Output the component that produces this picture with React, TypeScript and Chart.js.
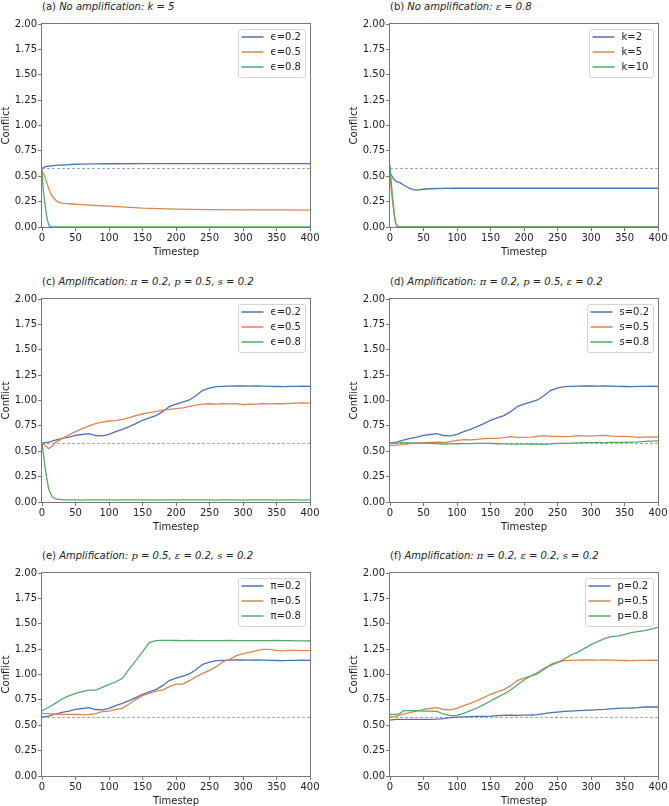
import React, { useEffect, useRef } from "react";
import { Chart, registerables } from "chart.js";

Chart.register(...registerables);

const FONT = "'DejaVu Sans', 'Noto Sans', sans-serif";
const SERIF = "'DejaVu Serif', serif";
Chart.defaults.font.family = FONT;

// ---------- data ----------
const X_MIN = 0;
const X_MAX = 400;
const Y_MIN = 0;
const Y_MAX = 2;
const NEUTRAL = 0.577; // dashed reference level

const NOAMP_T = [0, 2, 4, 6, 8, 10, 12, 15, 20, 25, 30, 35, 40, 50, 60, 80, 100, 150, 200, 250, 300, 350, 400];

const A_EPS02 = [0.57, 0.585, 0.592, 0.596, 0.598, 0.6, 0.601, 0.603, 0.607, 0.609, 0.611, 0.613, 0.615, 0.618, 0.62, 0.622, 0.623, 0.624, 0.624, 0.624, 0.624, 0.624, 0.624];
const A_EPS05 = [0.56, 0.53, 0.5, 0.46, 0.42, 0.38, 0.345, 0.305, 0.266, 0.243, 0.236, 0.232, 0.229, 0.224, 0.22, 0.212, 0.205, 0.185, 0.176, 0.172, 0.169, 0.168, 0.167];
const A_EPS08 = [0.55, 0.36, 0.25, 0.15, 0.07, 0.025, 0.006, 0.001, 0, 0, 0, 0, 0, 0, 0, 0, 0, 0, 0, 0, 0, 0, 0];

const B_K2 = [0.525, 0.51, 0.49, 0.47, 0.455, 0.447, 0.443, 0.437, 0.414, 0.397, 0.378, 0.368, 0.363, 0.372, 0.377, 0.38, 0.382, 0.382, 0.382, 0.382, 0.382, 0.382, 0.382];
const B_K5 = [0.5, 0.36, 0.25, 0.14, 0.05, 0.02, 0.005, 0, 0, 0, 0, 0, 0, 0, 0, 0, 0, 0, 0, 0, 0, 0, 0];
const B_K10 = [0.61, 0.43, 0.28, 0.14, 0.05, 0.01, 0, 0, 0, 0, 0, 0, 0, 0, 0, 0, 0, 0, 0, 0, 0, 0, 0];

const AMP_T = [0, 5, 10, 15, 20, 30, 40, 50, 60, 70, 80, 90, 100, 110, 120, 130, 140, 150, 160, 170, 180, 190, 200, 210, 220, 230, 240, 250, 260, 270, 280, 290, 300, 310, 320, 330, 340, 350, 360, 370, 380, 390, 400];

// pi = 0.2, p = 0.5, eps = 0.2, s = 0.2 (shared by c, d, e, f)
const BASE_AMP = [0.58, 0.585, 0.59, 0.6, 0.61, 0.627, 0.64, 0.657, 0.665, 0.673, 0.655, 0.652, 0.667, 0.693, 0.716, 0.742, 0.772, 0.805, 0.828, 0.851, 0.89, 0.94, 0.965, 0.985, 1.005, 1.05, 1.1, 1.123, 1.137, 1.14, 1.142, 1.143, 1.143, 1.142, 1.143, 1.142, 1.14, 1.138, 1.137, 1.139, 1.14, 1.141, 1.14];

const C_EPS05 = [0.58, 0.555, 0.525, 0.55, 0.585, 0.624, 0.66, 0.693, 0.722, 0.749, 0.772, 0.788, 0.798, 0.802, 0.814, 0.831, 0.85, 0.867, 0.88, 0.89, 0.906, 0.913, 0.92, 0.928, 0.943, 0.955, 0.965, 0.968, 0.965, 0.968, 0.966, 0.968, 0.96, 0.963, 0.965, 0.968, 0.966, 0.97, 0.968, 0.972, 0.975, 0.976, 0.975];
const C_EPS08 = [0.58, 0.32, 0.125, 0.053, 0.03, 0.022, 0.02, 0.021, 0.019, 0.02, 0.02, 0.021, 0.02, 0.019, 0.02, 0.02, 0.021, 0.02, 0.02, 0.019, 0.02, 0.02, 0.021, 0.02, 0.02, 0.02, 0.021, 0.02, 0.019, 0.02, 0.02, 0.02, 0.019, 0.02, 0.02, 0.021, 0.02, 0.019, 0.02, 0.02, 0.02, 0.019, 0.02];

const D_S05 = [0.558, 0.558, 0.56, 0.562, 0.565, 0.575, 0.58, 0.585, 0.588, 0.59, 0.586, 0.594, 0.607, 0.614, 0.613, 0.617, 0.624, 0.627, 0.626, 0.634, 0.644, 0.637, 0.636, 0.64, 0.647, 0.653, 0.647, 0.646, 0.644, 0.647, 0.653, 0.652, 0.65, 0.653, 0.657, 0.65, 0.647, 0.646, 0.644, 0.637, 0.64, 0.642, 0.64];
const D_S08 = [0.578, 0.58, 0.58, 0.582, 0.585, 0.582, 0.58, 0.58, 0.578, 0.576, 0.571, 0.572, 0.574, 0.575, 0.576, 0.577, 0.578, 0.577, 0.574, 0.572, 0.571, 0.57, 0.57, 0.572, 0.57, 0.567, 0.572, 0.577, 0.578, 0.58, 0.582, 0.584, 0.585, 0.586, 0.585, 0.587, 0.588, 0.588, 0.59, 0.592, 0.597, 0.6, 0.602];

const E_PI05 = [0.617, 0.615, 0.614, 0.612, 0.61, 0.607, 0.607, 0.606, 0.604, 0.606, 0.614, 0.634, 0.64, 0.657, 0.667, 0.709, 0.755, 0.791, 0.814, 0.837, 0.847, 0.88, 0.906, 0.906, 0.939, 0.979, 1.011, 1.041, 1.077, 1.126, 1.149, 1.186, 1.205, 1.218, 1.235, 1.248, 1.248, 1.238, 1.232, 1.238, 1.237, 1.236, 1.235];
const E_PI08 = [0.644, 0.66, 0.677, 0.697, 0.716, 0.759, 0.79, 0.814, 0.831, 0.847, 0.847, 0.874, 0.903, 0.926, 0.962, 1.054, 1.136, 1.222, 1.314, 1.333, 1.337, 1.336, 1.335, 1.334, 1.335, 1.334, 1.333, 1.334, 1.333, 1.334, 1.335, 1.334, 1.333, 1.333, 1.334, 1.333, 1.334, 1.335, 1.334, 1.333, 1.332, 1.332, 1.33];

const F_P02 = [0.55, 0.555, 0.558, 0.558, 0.558, 0.558, 0.558, 0.558, 0.558, 0.56, 0.565, 0.575, 0.58, 0.583, 0.585, 0.587, 0.588, 0.59, 0.594, 0.598, 0.6, 0.598, 0.6, 0.601, 0.604, 0.614, 0.624, 0.63, 0.637, 0.64, 0.644, 0.647, 0.65, 0.654, 0.657, 0.662, 0.667, 0.668, 0.67, 0.674, 0.68, 0.681, 0.68];
const F_P08 = [0.607, 0.607, 0.607, 0.617, 0.644, 0.644, 0.644, 0.64, 0.64, 0.637, 0.611, 0.594, 0.598, 0.617, 0.644, 0.67, 0.703, 0.739, 0.775, 0.808, 0.847, 0.897, 0.946, 0.985, 1.018, 1.061, 1.09, 1.12, 1.15, 1.192, 1.218, 1.258, 1.294, 1.323, 1.353, 1.373, 1.379, 1.392, 1.412, 1.422, 1.432, 1.448, 1.465];

const LEGEND_A = ["ϵ=0.2", "ϵ=0.5", "ϵ=0.8"];
const LEGEND_B = ["k=2", "k=5", "k=10"];
const LEGEND_C = ["ϵ=0.2", "ϵ=0.5", "ϵ=0.8"];
const LEGEND_D = ["s=0.2", "s=0.5", "s=0.8"];
const LEGEND_E = ["π=0.2", "π=0.5", "π=0.8"];
const LEGEND_F = ["p=0.2", "p=0.5", "p=0.8"];

const TAGS = ["(a)", "(b)", "(c)", "(d)", "(e)", "(f)"];
const TITLES = [
  "No amplification: k = 5",
  "No amplification: ε = 0.8",
  "Amplification: π = 0.2, p = 0.5, s = 0.2",
  "Amplification: π = 0.2, p = 0.5, ε = 0.2",
  "Amplification: p = 0.5, ε = 0.2, s = 0.2",
  "Amplification: π = 0.2, ε = 0.2, s = 0.2",
];
const X_LABEL = "Timestep";
const Y_LABEL = "Conflict";
const X_STEP = 50;
const Y_STEP = 0.25;

// ---------- style ----------
const SERIES_COLORS = ["#4C72B0", "#DD8452", "#55A868"];
const AXIS_COLOR = "#777777";
const TEXT_COLOR = "#222222";
const DASH_COLOR = "#999999";

const PLOT_W = 268;
const PLOT_H = 203;
const AXIS_W = 42;
const AXIS_H = 40;
const PAD_TOP = 8;
const PAD_RIGHT = 14;
const CANVAS_W = AXIS_W + PLOT_W + PAD_RIGHT;
const CANVAS_H = PAD_TOP + PLOT_H + AXIS_H;
const COL_LEFT = [0, 348];
const ROW_TOP = [16, 291, 565];

const PANELS = [
  { times: NOAMP_T, series: [A_EPS02, A_EPS05, A_EPS08], labels: LEGEND_A },
  { times: NOAMP_T, series: [B_K2, B_K5, B_K10], labels: LEGEND_B },
  { times: AMP_T, series: [BASE_AMP, C_EPS05, C_EPS08], labels: LEGEND_C },
  { times: AMP_T, series: [BASE_AMP, D_S05, D_S08], labels: LEGEND_D },
  { times: AMP_T, series: [BASE_AMP, E_PI05, E_PI08], labels: LEGEND_E },
  { times: AMP_T, series: [F_P02, BASE_AMP, F_P08], labels: LEGEND_F },
];

const framePlugin = {
  id: "frame",
  afterDatasetsDraw(chart: any) {
    const { ctx, chartArea } = chart;
    ctx.save();
    ctx.strokeStyle = AXIS_COLOR;
    ctx.lineWidth = 1;
    ctx.strokeRect(chartArea.left - 0.5, chartArea.top - 0.5, chartArea.right - chartArea.left + 1, chartArea.bottom - chartArea.top + 1);
    ctx.restore();
  },
};

const boxLegendPlugin = {
  id: "boxLegend",
  afterDatasetsDraw(chart: any, _args: any, opts: any) {
    const { ctx, chartArea } = chart;
    const labels: string[] = opts.labels || [];
    const colors: string[] = opts.colors || [];
    ctx.save();
    ctx.font = `10px ${FONT}`;
    const textW = Math.max(...labels.map((l) => ctx.measureText(l).width));
    const w = Math.round(32 + textW + 5);
    const h = 48;
    const x = chartArea.right - 5 - w + 0.5;
    const y = chartArea.top + 5 + 0.5;
    const r = 2.5;
    ctx.beginPath();
    ctx.moveTo(x + r, y);
    ctx.lineTo(x + w - r, y);
    ctx.arcTo(x + w, y, x + w, y + r, r);
    ctx.lineTo(x + w, y + h - r);
    ctx.arcTo(x + w, y + h, x + w - r, y + h, r);
    ctx.lineTo(x + r, y + h);
    ctx.arcTo(x, y + h, x, y + h - r, r);
    ctx.lineTo(x, y + r);
    ctx.arcTo(x, y, x + r, y, r);
    ctx.closePath();
    ctx.fillStyle = "rgba(255,255,255,0.8)";
    ctx.fill();
    ctx.strokeStyle = "#d4d4d4";
    ctx.lineWidth = 1;
    ctx.stroke();
    labels.forEach((l, i) => {
      const cy = y + 7.5 + i * 15;
      ctx.beginPath();
      ctx.moveTo(x + 3, cy);
      ctx.lineTo(x + 25, cy);
      ctx.strokeStyle = colors[i];
      ctx.lineWidth = 1.5;
      ctx.stroke();
      ctx.fillStyle = TEXT_COLOR;
      ctx.textBaseline = "middle";
      ctx.textAlign = "left";
      ctx.fillText(l, x + 32, cy + 0.5);
    });
    ctx.restore();
  },
};

function TitleText({ tag, text }: { tag: string; text: string }) {
  const parts = text.split(/([πpsε])(?= =)/);
  return (
    <>
      {tag}{" "}
      <i>
        {parts.map((p, i) =>
          i % 2 === 1 ? (
            <span key={i} style={{ fontFamily: SERIF }}>{p}</span>
          ) : (
            <span key={i}>{p}</span>
          )
        )}
      </i>
    </>
  );
}

function Panel({ idx }: { idx: number }) {
  const ref = useRef<HTMLCanvasElement>(null);
  const spec = PANELS[idx];
  const left = COL_LEFT[idx % 2];
  const top = ROW_TOP[Math.floor(idx / 2)];

  useEffect(() => {
    const datasets: any[] = spec.series.map((ys, i) => ({
      label: spec.labels[i],
      data: spec.times.map((t, j) => ({ x: t, y: ys[j] })),
      borderColor: SERIES_COLORS[i],
      borderWidth: 1.3,
      pointRadius: 0,
      tension: 0,
      fill: false,
      order: 3 - i,
    }));
    datasets.push({
      label: "neutral",
      data: [
        { x: X_MIN, y: NEUTRAL },
        { x: X_MAX, y: NEUTRAL },
      ],
      borderColor: DASH_COLOR,
      borderWidth: 0.9,
      borderDash: [3, 2],
      pointRadius: 0,
      fill: false,
      order: 10,
    });
    const tickFont = { size: 10, family: FONT };
    const chart = new Chart(ref.current as HTMLCanvasElement, {
      type: "line",
      data: { datasets },
      options: {
        responsive: false,
        animation: false,
        events: [],
        layout: { padding: { left: 0, right: PAD_RIGHT, top: PAD_TOP, bottom: 0 } },
        plugins: {
          legend: { display: false },
          tooltip: { enabled: false },
          boxLegend: { labels: spec.labels, colors: SERIES_COLORS },
        } as any,
        scales: {
          x: {
            type: "linear",
            min: X_MIN,
            max: X_MAX,
            ticks: { stepSize: X_STEP, color: TEXT_COLOR, font: tickFont, padding: 1, maxRotation: 0, autoSkip: false },
            grid: { drawOnChartArea: false, drawTicks: true, tickLength: 4, color: AXIS_COLOR, lineWidth: 1 },
            border: { display: false },
            title: { display: true, text: X_LABEL, color: TEXT_COLOR, font: tickFont, padding: { top: 0, bottom: 9 } },
            afterFit: (s: any) => {
              s.height = AXIS_H;
            },
          },
          y: {
            type: "linear",
            min: Y_MIN,
            max: Y_MAX,
            ticks: {
              stepSize: Y_STEP,
              color: TEXT_COLOR,
              font: tickFont,
              padding: 1,
              autoSkip: false,
              callback: (v: any) => Number(v).toFixed(2),
            },
            grid: { drawOnChartArea: false, drawTicks: true, tickLength: 4, color: AXIS_COLOR, lineWidth: 1 },
            border: { display: false },
            title: { display: true, text: Y_LABEL, color: TEXT_COLOR, font: tickFont, padding: { top: 0, bottom: 0 } },
            afterFit: (s: any) => {
              s.width = AXIS_W;
            },
          },
        } as any,
      },
      plugins: [framePlugin, boxLegendPlugin],
    } as any);
    return () => chart.destroy();
  }, []);

  return (
    <>
      <div
        style={{
          position: "absolute",
          left: left + AXIS_W,
          top: top + PAD_TOP - 23,
          fontFamily: FONT,
          fontSize: 10,
          lineHeight: "12px",
          color: TEXT_COLOR,
          whiteSpace: "nowrap",
        }}
      >
        <TitleText tag={TAGS[idx]} text={TITLES[idx]} />
      </div>
      <canvas
        ref={ref}
        width={CANVAS_W}
        height={CANVAS_H}
        style={{ position: "absolute", left, top, width: CANVAS_W, height: CANVAS_H }}
      />
    </>
  );
}

export default function App() {
  return (
    <div
      style={{
        position: "absolute",
        left: 0,
        top: 0,
        width: 669,
        height: 806,
        background: "#ffffff",
        overflow: "hidden",
      }}
    >
      {PANELS.map((_, i) => (
        <Panel key={i} idx={i} />
      ))}
    </div>
  );
}
